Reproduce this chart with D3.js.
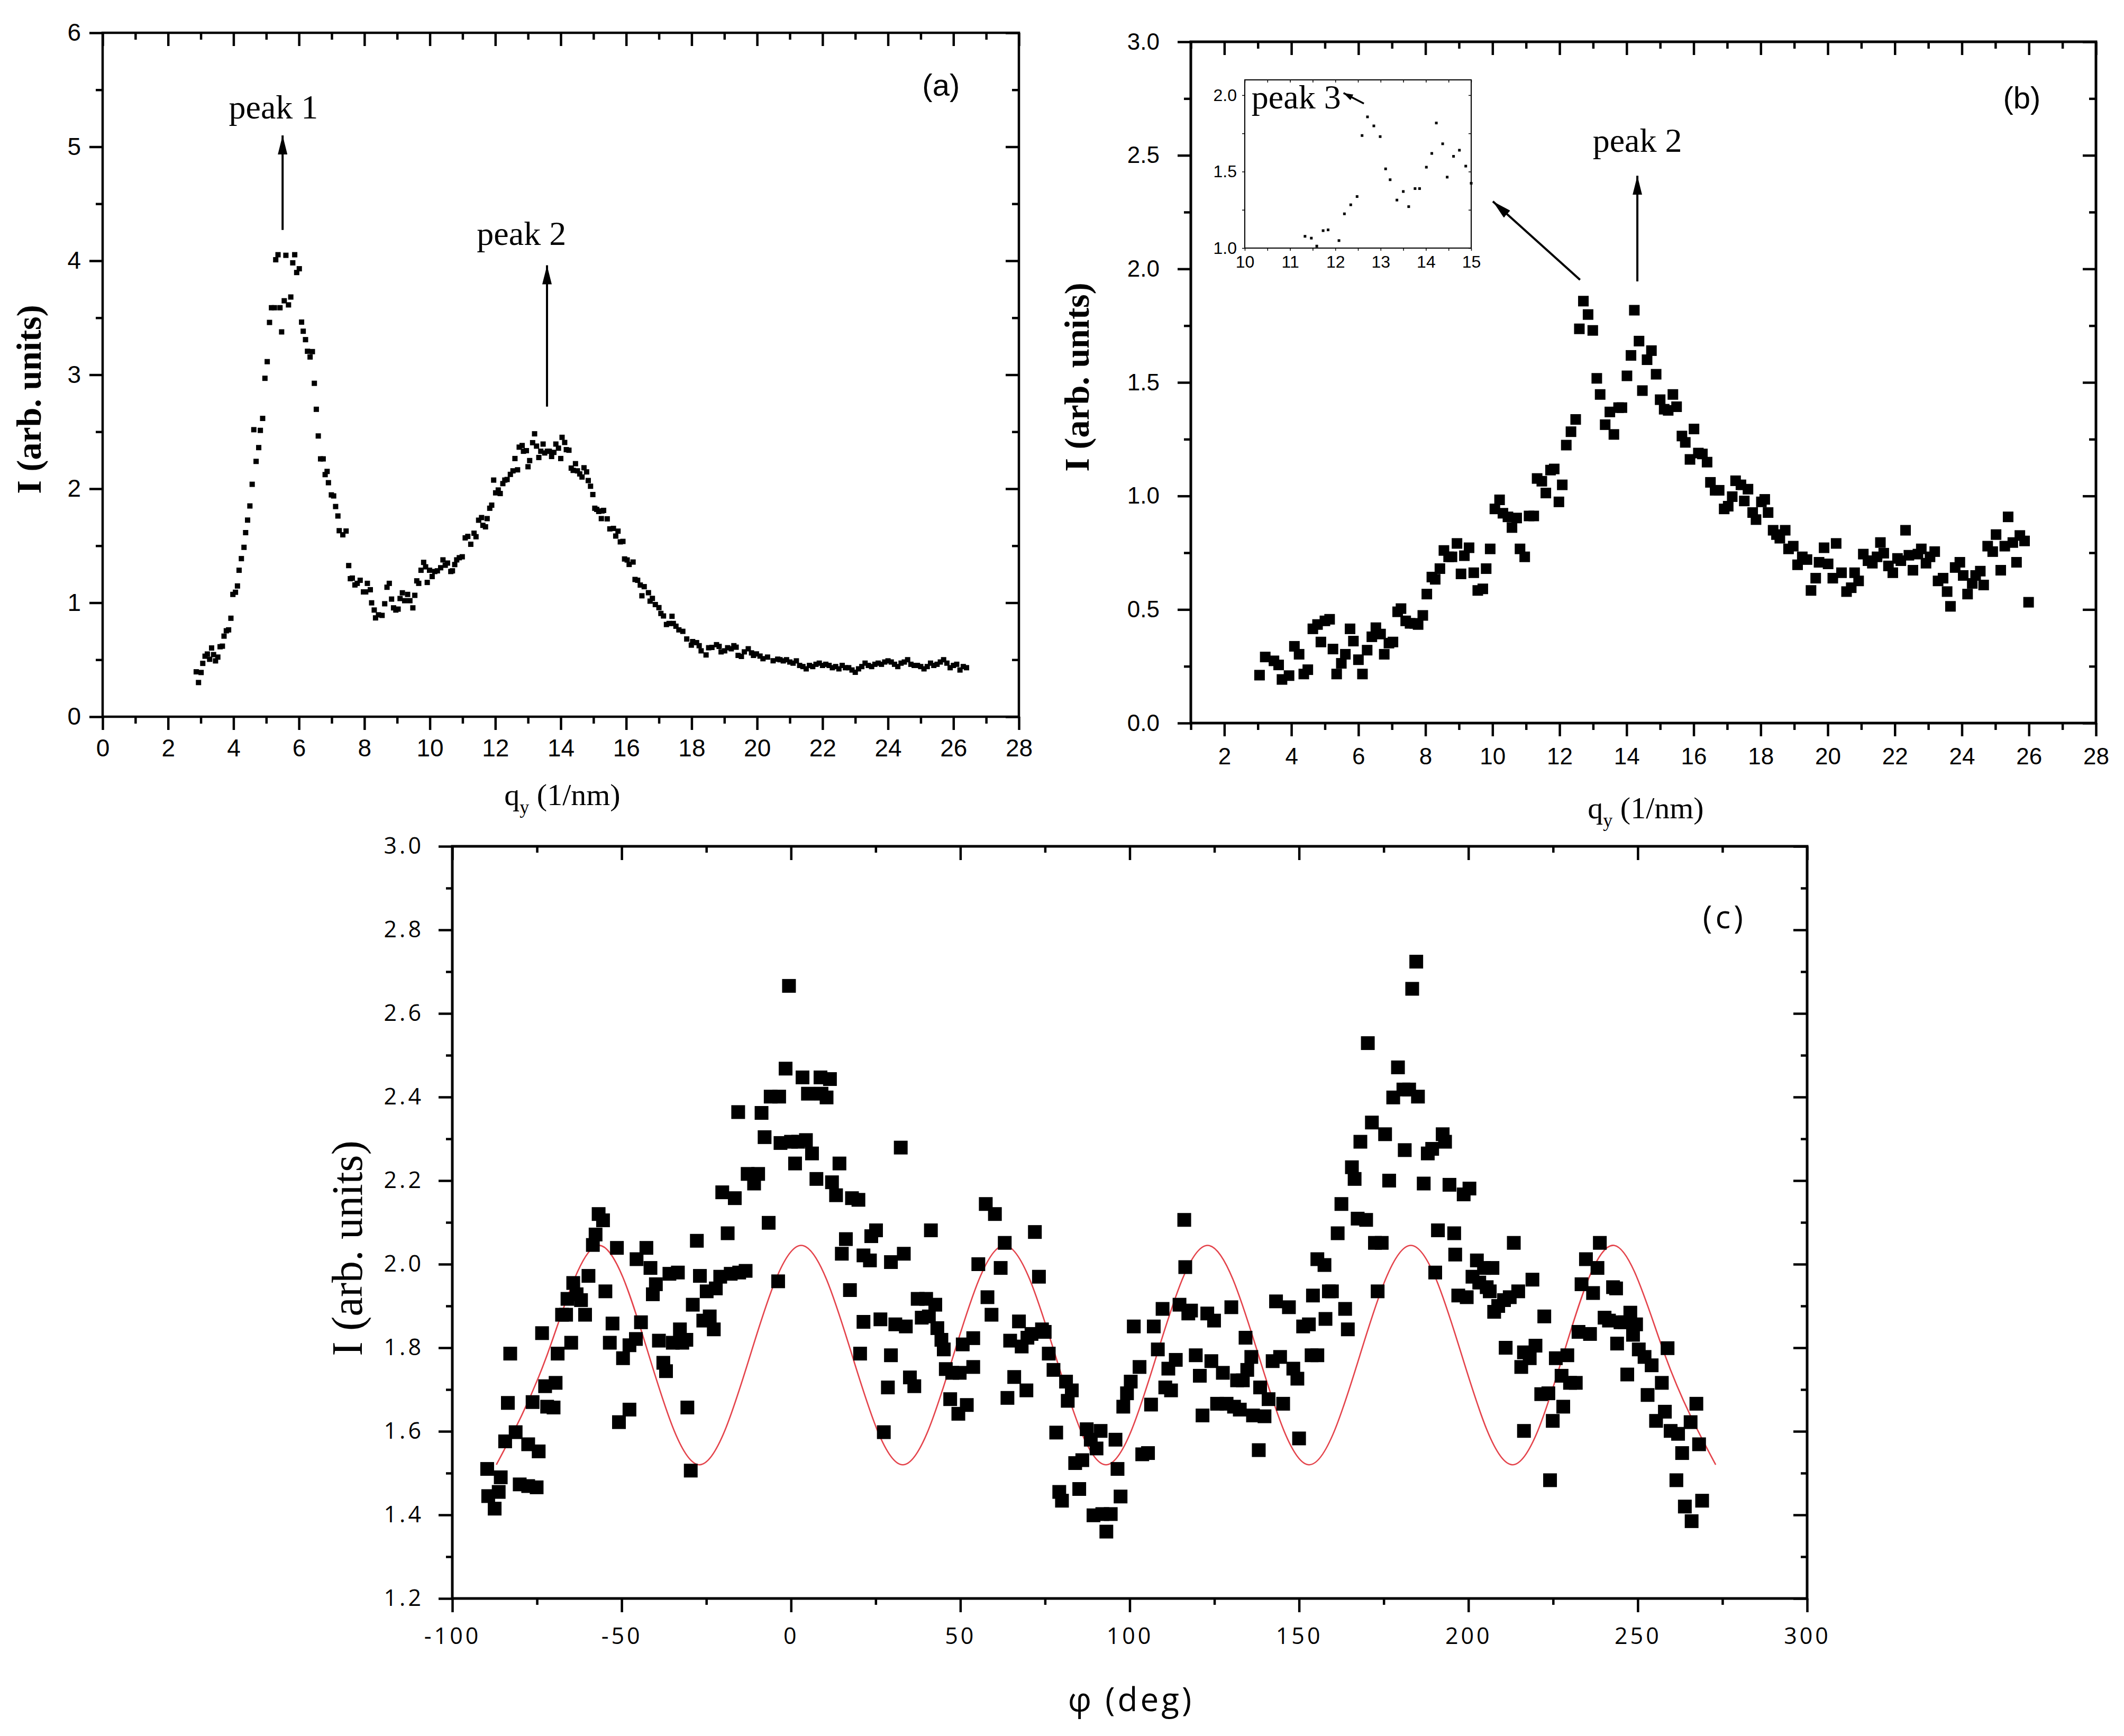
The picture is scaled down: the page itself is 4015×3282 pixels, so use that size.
<!DOCTYPE html>
<html>
<head>
<meta charset="utf-8">
<script src="https://cdn.jsdelivr.net/npm/d3@7"></script>
<style>
  body { margin: 0; background: #fff; }
  svg { display: block; }
</style>
</head>
<body>
<script>
// ---- panel (a): I vs q_y ----
var aQ = [
  2.86, 2.93, 3.01, 3.06, 3.13, 3.20, 3.27, 3.33, 3.39, 3.45,
  3.52, 3.59, 3.66, 3.71, 3.78, 3.85, 3.92, 3.98, 4.06, 4.12,
  4.17, 4.24, 4.32, 4.37, 4.43, 4.50, 4.57, 4.62, 4.69, 4.77,
  4.82, 4.89, 4.96, 5.03, 5.10, 5.16, 5.25, 5.29, 5.36, 5.42,
  5.47, 5.55, 5.60, 5.68, 5.75, 5.81, 5.87, 5.93, 6.01, 6.08,
  6.13, 6.20, 6.26, 6.34, 6.41, 6.47, 6.53, 6.59, 6.66, 6.74,
  6.80, 6.86, 6.90, 6.99, 7.06, 7.12, 7.19, 7.23, 7.34, 7.44,
  7.52, 7.57, 7.63, 7.71, 7.78, 7.87, 7.97, 8.04, 8.09, 8.18,
  8.22, 8.30, 8.34, 8.43, 8.54, 8.62, 8.69, 8.76, 8.83, 8.89,
  8.96, 9.03, 9.09, 9.16, 9.23, 9.32, 9.39, 9.48, 9.54, 9.60,
  9.66, 9.73, 9.81, 9.87, 9.92, 9.99, 10.07, 10.15, 10.23, 10.33,
  10.40, 10.47, 10.54, 10.64, 10.69, 10.76, 10.82, 10.90, 10.99, 11.08,
  11.16, 11.25, 11.35, 11.41, 11.49, 11.58, 11.62, 11.70, 11.75, 11.83,
  11.89, 11.95, 12.01, 12.09, 12.15, 12.23, 12.29, 12.36, 12.46, 12.54,
  12.60, 12.68, 12.73, 12.82, 12.86, 12.95, 13.00, 13.05, 13.14, 13.20,
  13.26, 13.33, 13.39, 13.46, 13.51, 13.59, 13.65, 13.72, 13.79, 13.85,
  13.93, 14.00, 14.04, 14.12, 14.17, 14.25, 14.32, 14.38, 14.45, 14.51,
  14.58, 14.65, 14.71, 14.79, 14.84, 14.91, 14.98, 15.04, 15.10, 15.16,
  15.24, 15.26, 15.31, 15.42, 15.50, 15.61, 15.68, 15.75, 15.82, 15.90,
  15.95, 16.03, 16.09, 16.21, 16.27, 16.35, 16.43, 16.48, 16.55, 16.68,
  16.73, 16.80, 16.89, 17.00, 17.06, 17.14, 17.23, 17.31, 17.40, 17.44,
  17.52, 17.61, 17.73, 17.85, 17.99, 18.03, 18.15, 18.23, 18.29, 18.44,
  18.52, 18.62, 18.76, 18.84, 18.90, 19.01, 19.10, 19.21, 19.29, 19.36,
  19.42, 19.52, 19.61, 19.73, 19.83, 19.89, 19.98, 20.09, 20.18, 20.32,
  20.49, 20.63, 20.7, 20.8, 20.9, 21.0, 21.1, 21.2, 21.3, 21.4,
  21.5, 21.6, 21.7, 21.8, 21.9, 22.0, 22.1, 22.2, 22.3, 22.4,
  22.5, 22.6, 22.7, 22.8, 22.9, 23.0, 23.1, 23.2, 23.3, 23.4,
  23.5, 23.6, 23.7, 23.8, 23.9, 24.0, 24.1, 24.2, 24.3, 24.4,
  24.5, 24.6, 24.7, 24.8, 24.9, 25.0, 25.1, 25.2, 25.3, 25.4,
  25.5, 25.6, 25.7, 25.8, 25.9, 26.0, 26.1, 26.2, 26.3, 26.4
];
var aI = [
  0.394, 0.300, 0.388, 0.468, 0.531, 0.550, 0.504, 0.603, 0.545, 0.490,
  0.523, 0.614, 0.619, 0.707, 0.754, 0.762, 0.864, 1.073, 1.092, 1.147,
  1.285, 1.387, 1.486, 1.615, 1.725, 1.849, 2.039, 2.518, 2.240, 2.361,
  2.512, 2.617, 2.969, 3.115, 3.459, 3.588, 3.588, 4.009, 4.053, 3.588,
  3.376, 3.649, 4.048, 3.613, 3.682, 3.982, 4.053, 3.897, 3.930, 3.462,
  3.382, 3.308, 3.206, 3.156, 3.203, 2.925, 2.697, 2.463, 2.262, 2.262,
  2.124, 2.152, 2.053, 1.946, 1.937, 1.844, 1.761, 1.632, 1.596, 1.629,
  1.326, 1.211, 1.216, 1.156, 1.170, 1.197, 1.095, 1.095, 1.170, 1.114,
  0.999, 0.936, 0.867, 0.894, 0.889, 0.991, 1.136, 1.170, 1.032, 0.955,
  0.936, 0.944, 1.037, 1.087, 1.018, 1.073, 1.018, 0.955, 1.065, 1.192,
  1.170, 1.285, 1.354, 1.315, 1.178, 1.285, 1.230, 1.274, 1.280, 1.307,
  1.376, 1.329, 1.348, 1.274, 1.280, 1.335, 1.376, 1.395, 1.403, 1.569,
  1.582, 1.513, 1.610, 1.579, 1.724, 1.747, 1.679, 1.666, 1.738, 1.829,
  1.856, 2.076, 1.964, 1.989, 1.958, 2.045, 2.076, 2.081, 2.126, 2.157,
  2.265, 2.166, 2.365, 2.379, 2.329, 2.334, 2.193, 2.247, 2.404, 2.482,
  2.374, 2.274, 2.329, 2.392, 2.314, 2.329, 2.329, 2.283, 2.319, 2.392,
  2.356, 2.265, 2.451, 2.406, 2.343, 2.338, 2.181, 2.161, 2.220, 2.157,
  2.130, 2.103, 2.184, 2.148, 2.072, 2.022, 1.949, 1.829, 1.819, 1.801,
  1.738, 1.805, 1.810, 1.736, 1.648, 1.652, 1.585, 1.628, 1.534, 1.538,
  1.384, 1.375, 1.336, 1.357, 1.204, 1.197, 1.155, 1.061, 1.141, 1.088,
  1.014, 1.038, 0.984, 0.957, 0.906, 0.884, 0.809, 0.818, 0.881, 0.818,
  0.794, 0.762, 0.749, 0.682, 0.628, 0.659, 0.650, 0.623, 0.578, 0.542,
  0.605, 0.608, 0.632, 0.617, 0.569, 0.578, 0.605, 0.596, 0.623, 0.610,
  0.538, 0.529, 0.569, 0.596, 0.560, 0.538, 0.551, 0.532, 0.509, 0.523,
  0.491, 0.505, 0.50, 0.49, 0.50, 0.48, 0.47, 0.49, 0.45, 0.44,
  0.42, 0.45, 0.44, 0.46, 0.47, 0.45, 0.46, 0.45, 0.43, 0.44,
  0.42, 0.45, 0.43, 0.43, 0.41, 0.39, 0.42, 0.44, 0.47, 0.45,
  0.44, 0.46, 0.47, 0.46, 0.48, 0.49, 0.48, 0.46, 0.44, 0.47,
  0.48, 0.50, 0.46, 0.45, 0.45, 0.44, 0.42, 0.44, 0.47, 0.45,
  0.46, 0.48, 0.50, 0.47, 0.43, 0.45, 0.46, 0.41, 0.44, 0.43
];
var aXTicks = [0, 2, 4, 6, 8, 10, 12, 14, 16, 18, 20, 22, 24, 26, 28];
var aXMinor = [1, 3, 5, 7, 9, 11, 13, 15, 17, 19, 21, 23, 25, 27];
var aYTicks = [0, 1, 2, 3, 4, 5, 6];
var aYMinor = [0.5, 1.5, 2.5, 3.5, 4.5, 5.5];

// ---- panel (b): I vs q_y, plus inset ----
var bQ = [
  3.05, 3.22, 3.48, 3.62, 3.72, 3.93, 4.09, 4.23, 4.37, 4.49,
  4.64, 4.78, 4.88, 5.00, 5.14, 5.24, 5.35, 5.49, 5.61, 5.75,
  5.85, 6.00, 6.12, 6.26, 6.40, 6.52, 6.66, 6.77, 6.91, 7.03,
  7.17, 7.27, 7.41, 7.54, 7.68, 7.78, 7.92, 8.04, 8.19, 8.29,
  8.43, 8.55, 8.69, 8.79, 8.94, 9.06, 9.16, 9.30, 9.44, 9.56,
  9.71, 9.81, 9.93, 10.07, 10.21, 10.31, 10.46, 10.58, 10.72, 10.82,
  10.96, 11.09, 11.23, 11.33, 11.47, 11.59, 11.73, 11.84, 11.98, 12.08,
  12.20, 12.34, 12.48, 12.59, 12.71, 12.85, 12.99, 13.11, 13.21, 13.36,
  13.50, 13.62, 13.76, 13.86, 14.01, 14.13, 14.23, 14.37, 14.47, 14.61,
  14.74, 14.88, 15.00, 15.12, 15.24, 15.38, 15.49, 15.65, 15.75, 15.89,
  16.01, 16.14, 16.26, 16.40, 16.50, 16.64, 16.76, 16.91, 17.03, 17.15,
  17.25, 17.41, 17.51, 17.62, 17.76, 17.86, 18.02, 18.12, 18.22, 18.37,
  18.47, 18.57, 18.73, 18.83, 18.97, 19.10, 19.24, 19.38, 19.50, 19.64,
  19.74, 19.89, 20.01, 20.15, 20.25, 20.41, 20.56, 20.70, 20.80, 20.92,
  21.06, 21.20, 21.33, 21.47, 21.57, 21.67, 21.81, 21.94, 22.08, 22.18,
  22.32, 22.42, 22.54, 22.69, 22.79, 22.93, 23.05, 23.19, 23.29, 23.44,
  23.56, 23.66, 23.80, 23.94, 24.04, 24.17, 24.31, 24.41, 24.55, 24.65,
  24.77, 24.92, 25.02, 25.16, 25.28, 25.38, 25.52, 25.63, 25.73, 25.87,
  25.99
];
var bI = [
  0.211, 0.291, 0.274, 0.256, 0.192, 0.209, 0.338, 0.303, 0.216, 0.235,
  0.415, 0.434, 0.357, 0.450, 0.457, 0.326, 0.216, 0.263, 0.303, 0.415,
  0.361, 0.279, 0.216, 0.321, 0.380, 0.420, 0.392, 0.303, 0.352, 0.357,
  0.490, 0.504, 0.450, 0.439, 0.439, 0.434, 0.474, 0.568, 0.643, 0.633,
  0.680, 0.760, 0.732, 0.732, 0.791, 0.657, 0.737, 0.772, 0.662, 0.584,
  0.591, 0.680, 0.767, 0.943, 0.983, 0.924, 0.908, 0.861, 0.903, 0.767,
  0.732, 0.912, 0.912, 1.077, 1.065, 1.013, 1.114, 1.119, 0.974, 1.049,
  1.224, 1.283, 1.337, 1.736, 1.858, 1.799, 1.729, 1.518, 1.447, 1.314,
  1.370, 1.271, 1.389, 1.389, 1.529, 1.619, 1.818, 1.682, 1.464, 1.600,
  1.640, 1.536, 1.424, 1.382, 1.377, 1.447, 1.393, 1.264, 1.236, 1.161,
  1.295, 1.189, 1.185, 1.149, 1.060, 1.025, 1.025, 0.943, 0.955, 0.997,
  1.067, 1.049, 0.978, 1.030, 0.927, 0.896, 0.974, 0.985, 0.927, 0.849,
  0.830, 0.814, 0.849, 0.767, 0.779, 0.697, 0.732, 0.720, 0.584, 0.638,
  0.708, 0.772, 0.701, 0.638, 0.791, 0.662, 0.579, 0.596, 0.662, 0.626,
  0.744, 0.715, 0.704, 0.732, 0.795, 0.748, 0.692, 0.662, 0.725, 0.715,
  0.849, 0.739, 0.673, 0.744, 0.767, 0.704, 0.732, 0.755, 0.626, 0.638,
  0.579, 0.514, 0.685, 0.708, 0.650, 0.568, 0.615, 0.650, 0.669, 0.608,
  0.779, 0.755, 0.830, 0.673, 0.779, 0.908, 0.795, 0.708, 0.826, 0.802,
  0.532
];
var bXTicks = [2, 4, 6, 8, 10, 12, 14, 16, 18, 20, 22, 24, 26, 28];
var bXMinor = [1, 3, 5, 7, 9, 11, 13, 15, 17, 19, 21, 23, 25, 27];
var bYTicks = [0, 0.5, 1, 1.5, 2, 2.5, 3];
var bYMinor = [0.25, 0.75, 1.25, 1.75, 2.25, 2.75];
var insetXTicks = [10, 11, 12, 13, 14, 15];
var insetXMinor = [10.5, 11.5, 12.5, 13.5, 14.5];
var insetYTicks = [1.0, 1.5, 2.0];
var insetYMinor = [1.25, 1.75];

// ---- panel (c): I vs phi, with fitted curve ----
var cPhi = [
  -89.7, -89.4, -87.5, -86.3, -85.7, -84.4, -83.6, -82.9, -81.3, -80.1,
  -77.6, -77.6, -76.3, -75.1, -74.5, -73.5, -72.6, -72.0, -70.1, -69.5,
  -68.9, -67.6, -66.4, -66.0, -64.9, -64.3, -63.3, -62.0, -60.8, -59.8,
  -58.5, -57.7, -56.8, -55.5, -54.8, -53.5, -52.7, -51.4, -50.8, -49.6,
  -47.7, -47.7, -45.8, -45.6, -44.3, -42.7, -41.5, -40.8, -39.9, -39.0,
  -37.7, -36.9, -35.9, -34.9, -33.4, -32.8, -32.1, -30.9, -30.6, -29.6,
  -29.0, -27.8, -26.9, -25.9, -24.9, -24.0, -22.8, -22.2, -20.9, -20.3,
  -18.7, -17.8, -16.6, -15.6, -15.3, -13.4, -12.8, -10.9, -9.7, -8.7,
  -7.8, -6.6, -6.0, -3.8, -3.5, -3.1, -1.6, -0.6, 0.0, 1.2,
  2.1, 3.4, 4.4, 5.0, 6.2, 7.5, 8.7, 9.0, 10.5, 11.5,
  12.1, 13.3, 14.3, 15.0, 16.2, 17.4, 18.0, 19.9, 20.4, 21.4,
  21.4, 23.3, 23.7, 25.1, 26.4, 27.4, 28.6, 29.5, 29.5, 30.8,
  32.4, 33.3, 33.9, 35.1, 36.4, 37.4, 38.6, 39.9, 40.7, 41.3,
  42.6, 43.2, 44.4, 45.1, 45.7, 47.0, 47.6, 49.4, 49.8, 50.7,
  51.9, 53.8, 53.8, 55.3, 57.5, 58.0, 59.2, 60.2, 61.9, 63.1,
  63.9, 64.7, 65.9, 67.3, 68.1, 69.5, 69.8, 71.0, 72.0, 73.2,
  74.1, 74.9, 76.1, 77.5, 78.3, 79.2, 80.0, 81.2, 81.7, 82.9,
  83.9, 85.1, 86.0, 87.3, 88.5, 89.3, 90.2, 91.4, 91.9, 93.1,
  94.4, 95.8, 96.4, 97.3, 98.1, 99.2, 100.3, 101.2, 102.9, 103.7,
  105.4, 106.3, 107.1, 108.3, 109.7, 110.5, 111.4, 112.2, 113.6, 114.7,
  116.1, 116.4, 117.3, 118.1, 119.5, 120.7, 121.5, 122.9, 124.1, 124.9,
  125.8, 127.5, 128.6, 130.0, 130.8, 131.7, 132.5, 133.4, 134.2, 134.7,
  135.9, 136.4, 138.1, 138.5, 139.8, 141.0, 142.2, 143.2, 144.4, 145.3,
  147.0, 148.3, 149.5, 150.0, 151.2, 152.9, 153.7, 155.4, 154.1, 155.4,
  157.5, 157.8, 158.8, 159.7, 161.4, 162.5, 163.6, 164.4, 165.6, 166.4,
  167.3, 168.1, 169.8, 170.3, 171.5, 172.4, 173.2, 174.4, 175.4, 176.6,
  177.8, 179.2, 180.8, 181.2, 182.5, 183.4, 184.6, 185.1, 186.8, 188.0,
  189.3, 190.2, 191.0, 192.4, 193.1, 194.4, 195.8, 196.1, 197.0, 198.6,
  199.5, 200.3, 201.2, 202.5, 203.2, 204.6, 205.4, 206.3, 207.1, 207.6,
  208.8, 210.5, 211.0, 212.2, 213.4, 214.7, 215.6, 216.4, 216.4, 218.1,
  218.9, 219.8, 221.5, 222.4, 223.6, 224.1, 224.9, 225.8, 227.5, 228.0,
  229.2, 230.0, 231.7, 232.5, 233.4, 234.7, 235.9, 236.8, 238.1, 238.8,
  240.2, 241.5, 242.7, 243.6, 243.9, 244.9, 246.1, 246.9, 247.8, 248.6,
  249.5, 250.3, 252.0, 252.9, 254.1, 255.4, 257.1, 258.0, 258.8, 259.7,
  261.4, 261.9, 263.1, 263.9, 265.6, 265.9, 267.3, 268.1, 269.0
];
var cI = [
  1.510, 1.445, 1.415, 1.455, 1.490, 1.576, 1.668, 1.786, 1.598, 1.473,
  1.469, 1.569, 1.670, 1.466, 1.552, 1.835, 1.708, 1.659, 1.657, 1.716,
  1.786, 1.879, 1.879, 1.917, 1.812, 1.955, 1.928, 1.914, 1.879, 1.972,
  2.046, 2.071, 2.120, 2.105, 1.935, 1.812, 1.858, 2.039, 1.622, 1.775,
  1.652, 1.806, 1.821, 2.012, 1.861, 2.039, 1.991, 1.928, 1.952, 1.817,
  1.764, 1.744, 1.977, 1.812, 1.980, 1.844, 1.812, 1.819, 1.657, 1.506,
  1.903, 2.056, 1.972, 1.865, 1.935, 1.875, 1.844, 1.942, 1.970, 2.172,
  2.074, 1.977, 2.158, 2.364, 1.980, 1.984, 2.216, 2.193, 2.216, 2.362,
  2.304, 2.099, 2.401, 1.959, 2.401, 2.290, 2.468, 2.666, 2.293, 2.241,
  2.293, 2.447, 2.297, 2.408, 2.265, 2.204, 2.447, 2.408, 2.399, 2.443,
  2.196, 2.165, 2.241, 2.025, 2.060, 1.938, 2.158, 2.154, 1.786, 1.862,
  2.021, 2.009, 2.067, 2.081, 1.868, 1.598, 1.705, 2.005, 1.782, 1.856,
  2.279, 2.025, 1.851, 1.729, 1.708, 1.917, 1.872, 1.917, 1.875, 2.081,
  1.903, 1.847, 1.819, 1.796, 1.749, 1.677, 1.740, 1.642, 1.740, 1.808,
  1.663, 1.823, 1.754, 2.000, 2.144, 1.921, 1.879, 2.120, 1.991, 2.051,
  1.680, 1.817, 1.730, 1.863, 1.803, 1.698, 1.824, 1.833, 2.077, 1.970,
  1.844, 1.838, 1.786, 1.747, 1.597, 1.455, 1.434, 1.719, 1.673, 1.698,
  1.524, 1.462, 1.531, 1.605, 1.580, 1.399, 1.559, 1.601, 1.402, 1.360,
  1.402, 1.580, 1.510, 1.444, 1.659, 1.691, 1.719, 1.851, 1.754, 1.545,
  1.548, 1.664, 1.851, 1.796, 1.893, 1.705, 1.750, 1.698, 1.771, 1.903,
  2.106, 1.993, 1.882, 1.889, 1.782, 1.733, 1.638, 1.882, 1.768, 1.865,
  1.666, 1.740, 1.666, 1.897, 1.659, 1.722, 1.652, 1.722, 1.824, 1.747,
  1.778, 1.638, 1.555, 1.705, 1.636, 1.677, 1.768, 1.911, 1.778, 1.666,
  1.897, 1.750, 1.726, 1.583, 1.851, 1.856, 1.782, 1.782, 1.925, 2.012,
  1.998, 1.869, 1.935, 1.935, 2.074, 2.144, 1.893, 1.844, 2.232, 2.204,
  2.109, 2.293, 2.106, 2.529, 2.339, 2.051, 1.935, 2.051, 2.311, 2.200,
  2.399, 2.471, 2.418, 2.273, 2.418, 2.659, 2.724, 2.401, 2.193, 2.265,
  2.276, 1.980, 2.081, 2.311, 2.293, 2.190, 2.074, 2.023, 1.925, 2.167,
  1.921, 2.181, 1.970, 2.009, 1.956, 1.991, 1.945, 1.935, 1.991, 1.886,
  1.900, 1.914, 1.800, 1.921, 2.051, 1.935, 1.754, 1.789, 1.601, 1.775,
  1.963, 1.805, 1.689, 1.875, 1.691, 1.483, 1.625, 1.775, 1.733, 1.659,
  1.782, 1.716, 1.716, 1.838, 1.952, 2.012, 1.833, 1.931, 1.991, 2.051,
  1.872, 1.865, 1.945, 1.942, 1.810, 1.861, 1.861, 1.736, 1.884, 1.831,
  1.856, 1.796, 1.778, 1.687, 1.758, 1.625, 1.716, 1.647, 1.799, 1.601,
  1.483, 1.594, 1.548, 1.420, 1.622, 1.385, 1.666, 1.569, 1.434
];
// red fit curve, read at its extrema and mid points
var fitPhi = [-87, -72, -57, -42, -27, -12, 3, 18, 33, 48, 63, 78, 93,
  108, 123, 138, 153, 168, 183, 198, 213, 228, 243, 258, 273];
var fitI = [1.52, 1.783, 2.045, 1.783, 1.52, 1.783, 2.045, 1.783, 1.52, 1.783, 2.045, 1.783, 1.52,
  1.783, 2.045, 1.783, 1.52, 1.783, 2.045, 1.783, 1.52, 1.783, 2.045, 1.783, 1.52];
var cXTicks = [-100, -50, 0, 50, 100, 150, 200, 250, 300];
var cXMinor = [-75, -25, 25, 75, 125, 175, 225, 275];
var cYTicks = [1.2, 1.4, 1.6, 1.8, 2.0, 2.2, 2.4, 2.6, 2.8, 3.0];
var cYMinor = [1.3, 1.5, 1.7, 1.9, 2.1, 2.3, 2.5, 2.7, 2.9];

var SANS = '"Liberation Sans", Arial, sans-serif';
var SERIF = '"Liberation Serif", "Times New Roman", serif';
var OPEN = '"Open Sans", "DejaVu Sans", sans-serif';

var svg = d3.select('body').append('svg')
    .attr('width', 4015).attr('height', 3282);
svg.append('rect').attr('width', 4015).attr('height', 3282).attr('fill', '#fff');

var defs = svg.append('defs');
function addMarker(id, len, wid) {
    defs.append('marker').attr('id', id)
        .attr('viewBox', '0 0 ' + len + ' ' + wid)
        .attr('refX', len).attr('refY', wid / 2)
        .attr('markerWidth', len).attr('markerHeight', wid)
        .attr('markerUnits', 'userSpaceOnUse').attr('orient', 'auto')
        .append('path').attr('d', 'M0,0L' + len + ',' + (wid / 2) + 'L0,' + wid + 'Z')
        .attr('fill', '#000');
}
addMarker('head', 36, 18);
addMarker('headSmall', 18, 12);

// box + ticks on all four sides; bottom/left outward with labels, top/right inward
function drawFrame(g, x, y, o) {
    var l = x.range()[0], r = x.range()[1], b = y.range()[0], t = y.range()[1];
    g.append('rect').attr('x', l).attr('y', t).attr('width', r - l).attr('height', b - t)
        .attr('fill', o.fill || 'none').attr('stroke', '#000').attr('stroke-width', o.lw);
    var sides = [
        [d3.axisBottom(x), 'translate(0,' + b + ')', o.xMajor, o.xMinor, 1, o.xFmt, o.xPad],
        [d3.axisTop(x), 'translate(0,' + t + ')', o.xMajor, o.xMinor, -1, null, 0],
        [d3.axisLeft(y), 'translate(' + l + ',0)', o.yMajor, o.yMinor, 1, o.yFmt, o.yPad],
        [d3.axisRight(y), 'translate(' + r + ',0)', o.yMajor, o.yMinor, -1, null, 0]
    ];
    sides.forEach(function(s) {
        [[s[2], o.tMaj, s[5]], [s[3], o.tMin, null]].forEach(function(k) {
            var ax = s[0].tickValues(k[0]).tickSize(s[4] * k[1]).tickSizeOuter(0)
                .tickPadding(s[6]).tickFormat(k[2] || function() { return ''; });
            var ag = g.append('g').attr('transform', s[1]).call(ax);
            ag.select('.domain').remove();
            ag.selectAll('line').attr('stroke', '#000').attr('stroke-width', o.tw);
            ag.selectAll('text').attr('fill', '#000').attr('font-family', o.font)
                .attr('font-size', o.fs).attr('letter-spacing', o.ls || 0);
        });
    });
}

function squares(g, xs, ys, x, y, size) {
    g.selectAll(null).data(d3.zip(xs, ys)).join('rect')
        .attr('x', function(d) { return x(d[0]) - size / 2; })
        .attr('y', function(d) { return y(d[1]) - size / 2; })
        .attr('width', size).attr('height', size).attr('fill', '#000');
}

function arrow(g, x1, y1, x2, y2, w, m) {
    g.append('line').attr('x1', x1).attr('y1', y1).attr('x2', x2).attr('y2', y2)
        .attr('stroke', '#000').attr('stroke-width', w).attr('marker-end', 'url(#' + m + ')');
}

function label(g, txt, x, y, font, size, anchor, extra) {
    var t = g.append('text').attr('x', x).attr('y', y).attr('font-family', font)
        .attr('font-size', size).attr('text-anchor', anchor || 'middle').attr('fill', '#000').text(txt);
    if (extra) extra(t);
    return t;
}

function qTitle(t) {
    t.append('tspan').text('q');
    t.append('tspan').attr('font-size', 36).attr('dy', 16).text('y');
    t.append('tspan').attr('dy', -16).text(' (1/nm)');
}

// ================= panel (a) =================
var xA = d3.scaleLinear().domain([0, 28]).range([194, 1926]);
var yA = d3.scaleLinear().domain([0, 6]).range([1355, 62]);
var gA = svg.append('g');
drawFrame(gA, xA, yA, {
    xMajor: aXTicks, xMinor: aXMinor, yMajor: aYTicks, yMinor: aYMinor,
    xFmt: d3.format('d'), yFmt: d3.format('d'), xPad: 17, yPad: 16,
    tMaj: 25, tMin: 13, lw: 4.5, tw: 4.5, font: SANS, fs: 46
});
squares(gA, aQ, aI, xA, yA, 10);
arrow(gA, xA(5.5), yA(4.27), xA(5.5), yA(5.1), 4, 'head');
arrow(gA, xA(13.58), yA(2.72), xA(13.58), yA(3.96), 4, 'head');
label(gA, 'peak 1', xA(5.22), yA(5.25), SERIF, 64);
label(gA, 'peak 2', xA(12.8), yA(4.14), SERIF, 64);
label(gA, '(a)', xA(25.62), yA(5.45), SANS, 58);
label(gA, '', 1063, 1522, SERIF, 58, 'middle', qTitle);
label(gA, 'I (arb. units)', 0, 0, SERIF, 66, 'middle', function(t) {
    t.attr('font-weight', 'bold').attr('transform', 'translate(77,755) rotate(-90)');
});

// ================= panel (b) =================
var xB = d3.scaleLinear().domain([1, 28]).range([2251, 3962]);
var yB = d3.scaleLinear().domain([0, 3]).range([1367, 79]);
var gB = svg.append('g');
drawFrame(gB, xB, yB, {
    xMajor: bXTicks, xMinor: bXMinor, yMajor: bYTicks, yMinor: bYMinor,
    xFmt: d3.format('d'), yFmt: d3.format('.1f'), xPad: 22, yPad: 34,
    tMaj: 25, tMin: 13, lw: 5, tw: 4.5, font: SANS, fs: 44
});
squares(gB, bQ, bI, xB, yB, 20);
arrow(gB, xB(14.32), yB(1.945), xB(14.32), yB(2.41), 4, 'head');
arrow(gB, xB(12.61), yB(1.952), xB(10.01), yB(2.297), 4, 'head');
label(gB, 'peak 2', xB(14.32), yB(2.516), SERIF, 64);
label(gB, '(b)', xB(25.79), yB(2.707), SANS, 58);
label(gB, '', 3111, 1547, SERIF, 58, 'middle', qTitle);
label(gB, 'I (arb. units)', 0, 0, SERIF, 66, 'middle', function(t) {
    t.attr('font-weight', 'bold').attr('transform', 'translate(2058,713) rotate(-90)');
});

// inset: zoom of panel (b) between q = 10 and 15
var xIn = d3.scaleLinear().domain([10, 15]).range([2353, 2781]);
var yIn = d3.scaleLinear().domain([1.0, 2.1]).range([469, 151]);
var gIn = svg.append('g');
drawFrame(gIn, xIn, yIn, {
    xMajor: insetXTicks, xMinor: insetXMinor, yMajor: insetYTicks, yMinor: insetYMinor,
    xFmt: d3.format('d'), yFmt: d3.format('.1f'), xPad: 9, yPad: 10,
    tMaj: 5, tMin: 5, lw: 2, tw: 1.5, font: SANS, fs: 32, fill: '#fff'
});
var insetPts = d3.zip(bQ, bI).filter(function(d) {
    return d[0] >= 10 && d[0] <= 15 && d[1] >= 1.0 && d[1] <= 2.1;
});
squares(gIn, insetPts.map(function(d) { return d[0]; }), insetPts.map(function(d) { return d[1]; }), xIn, yIn, 5);
label(gIn, 'peak 3', xIn(10.15), yIn(1.913), SERIF, 64, 'start');
arrow(gIn, xIn(12.63), yIn(1.945), xIn(12.18), yIn(2.014), 3.5, 'headSmall');

// ================= panel (c) =================
var xC = d3.scaleLinear().domain([-100, 300]).range([855, 3416]);
var yC = d3.scaleLinear().domain([1.2, 3.0]).range([3022, 1600]);
var gC = svg.append('g');
drawFrame(gC, xC, yC, {
    xMajor: cXTicks, xMinor: cXMinor, yMajor: cYTicks, yMinor: cYMinor,
    xFmt: function(d) { return String(d); }, yFmt: d3.format('.1f'), xPad: 29, yPad: 28,
    tMaj: 26, tMin: 12, lw: 5, tw: 4.5, font: OPEN, fs: 43, ls: 5
});
var fitLine = d3.line()
    .x(function(d) { return xC(d[0]); })
    .y(function(d) { return yC(d[1]); })
    .curve(d3.curveNatural);
gC.append('path').attr('d', fitLine(d3.zip(fitPhi, fitI)))
    .attr('fill', 'none').attr('stroke', '#e4434b').attr('stroke-width', 2.6);
squares(gC, cPhi, cI, xC, yC, 26);
label(gC, '(c)', xC(275.6), yC(2.804), OPEN, 60, 'middle', function(t) {
    t.attr('letter-spacing', 6);
});
label(gC, '\u03c6 (deg)', 2138, 3235, OPEN, 62, 'middle', function(t) {
    t.attr('letter-spacing', 5);
});
label(gC, 'I (arb. units)', 0, 0, SERIF, 82, 'middle', function(t) {
    t.attr('transform', 'translate(684,2360) rotate(-90)');
});
</script>
</body>
</html>
